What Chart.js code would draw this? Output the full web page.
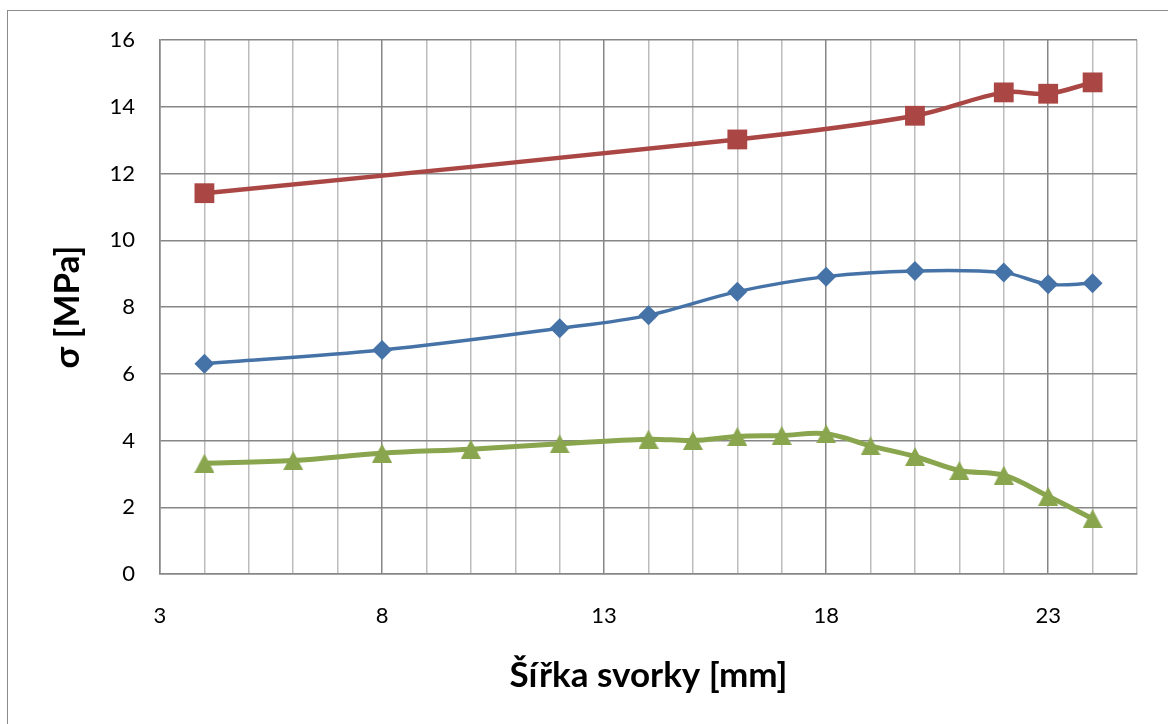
<!DOCTYPE html>
<html>
<head>
<meta charset="utf-8">
<script src="https://cdn.jsdelivr.net/npm/chart.js@4"></script>
<style>
  html, body { margin: 0; padding: 0; background: #fff; }
  canvas { display: block; }
</style>
</head>
<body>
<canvas id="c" width="1168" height="724"></canvas>
<script>
// Stress vs. clamp width, three measurement series
const blueX  = [4, 8, 12, 14, 16, 18, 20, 22, 23, 24];
const blueY  = [6.30, 6.71, 7.36, 7.75, 8.46, 8.91, 9.08, 9.03, 8.68, 8.71];

const redX   = [4, 16, 20, 22, 23, 24];
const redY   = [11.41, 13.02, 13.73, 14.43, 14.39, 14.73];

const greenX = [4, 6, 8, 10, 12, 14, 15, 16, 17, 18, 19, 20, 21, 22, 23, 24];
const greenY = [3.32, 3.40, 3.62, 3.74, 3.90, 4.04, 4.00, 4.12, 4.15, 4.20, 3.84, 3.52, 3.10, 2.96, 2.33, 1.66];

// Labelled (major) x ticks; every whole number gets a grid line
const xLabelled = [3, 8, 13, 18, 23];
const xTitle = 'Šířka svorky [mm]';
const yTitle = 'σ [MPa]';

const FONT = 'Lato, "Liberation Sans", sans-serif';

function toPoints(xs, ys) {
  return xs.map((x, i) => ({ x: x, y: ys[i] }));
}

// Triangle marker centred on its bounding box
function triangleMarker(color, w, h) {
  const c = document.createElement('canvas');
  c.width = w; c.height = h;
  const g = c.getContext('2d');
  g.fillStyle = color;
  g.beginPath();
  g.moveTo(w / 2, 0);
  g.lineTo(w, h);
  g.lineTo(0, h);
  g.closePath();
  g.fill();
  return c;
}

// White background and the outer frame of the chart object
const framePlugin = {
  id: 'frame',
  beforeDraw(chart) {
    const g = chart.ctx;
    g.save();
    g.fillStyle = '#ffffff';
    g.fillRect(0, 0, chart.width, chart.height);
    g.strokeStyle = '#8c8c8c';
    g.lineWidth = 1;
    g.strokeRect(7.5, 10.5, chart.width + 20, chart.height + 20);
    g.restore();
  }
};

function draw() {
  const BLUE = '#4572A7', RED = '#AA4643', GREEN = '#89A54E';
  new Chart(document.getElementById('c'), {
    type: 'line',
    data: {
      datasets: [
        {
          data: toPoints(blueX, blueY),
          borderColor: BLUE,
          backgroundColor: BLUE,
          borderWidth: 3.5,
          pointStyle: 'rectRot',
          pointRadius: 10,
          pointBorderWidth: 0,
          pointBackgroundColor: BLUE,
          tension: 0.35
        },
        {
          data: toPoints(redX, redY),
          borderColor: RED,
          backgroundColor: RED,
          borderWidth: 4.5,
          pointStyle: 'rect',
          pointRadius: 14,
          pointBorderWidth: 0,
          pointBackgroundColor: RED,
          tension: 0.35
        },
        {
          data: toPoints(greenX, greenY),
          borderColor: GREEN,
          backgroundColor: GREEN,
          borderWidth: 5,
          pointStyle: triangleMarker(GREEN, 20, 19),
          pointRadius: 10,
          tension: 0.35
        }
      ]
    },
    options: {
      responsive: false,
      animation: false,
      devicePixelRatio: 1,
      layout: { padding: { top: 40, right: 31, left: 0, bottom: 0 } },
      plugins: {
        legend: { display: false },
        tooltip: { enabled: false }
      },
      scales: {
        x: {
          type: 'linear',
          min: 3,
          max: 25,
          afterFit(scale) { scale.height = 150; },
          ticks: {
            stepSize: 1,
            autoSkip: false,
            maxRotation: 0,
            padding: 29,
            color: '#000',
            font: { family: FONT, size: 22 },
            callback: v => (xLabelled.includes(v) ? String(v) : '')
          },
          grid: {
            drawTicks: false,
            lineWidth: 1.5,
            color: ctx => (xLabelled.includes(ctx.tick.value) ? '#868686' : '#bcbcbc')
          },
          border: { color: '#868686', width: 1.5 },
          title: {
            display: true,
            text: xTitle,
            color: '#000',
            font: { family: FONT, size: 35, weight: 'bold' },
            padding: { top: 0, bottom: 27 }
          }
        },
        y: {
          min: 0,
          max: 16,
          afterFit(scale) { scale.width = 160; },
          ticks: {
            stepSize: 2,
            padding: 25,
            color: '#000',
            font: { family: FONT, size: 22 }
          },
          grid: {
            drawTicks: false,
            lineWidth: 1.5,
            color: '#868686'
          },
          border: { color: '#868686', width: 1.5 },
          title: {
            display: true,
            text: yTitle,
            color: '#000',
            font: { family: FONT, size: 35, weight: 'bold' },
            padding: { top: 47, bottom: 0 }
          }
        }
      }
    },
    plugins: [framePlugin]
  });
}

if (document.fonts && document.fonts.load) {
  Promise.all([
    document.fonts.load('22px Lato'),
    document.fonts.load('bold 35px Lato')
  ]).then(draw, draw);
} else {
  draw();
}
</script>
</body>
</html>
